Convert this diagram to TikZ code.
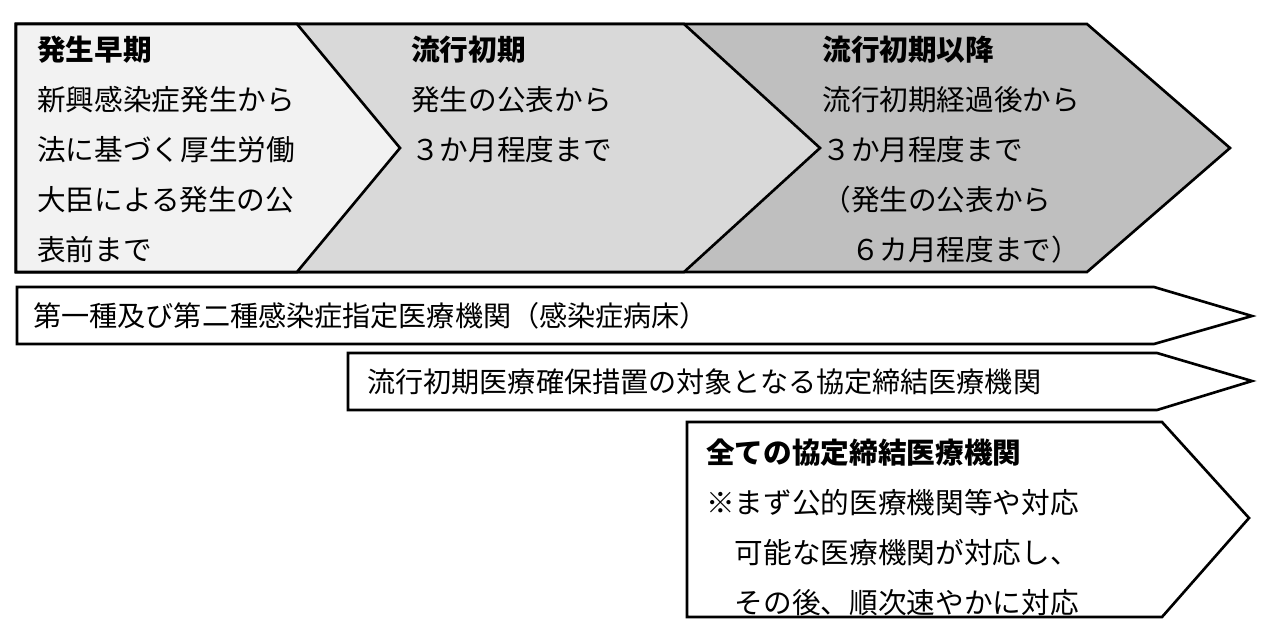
\documentclass[tikz,border=0pt]{standalone}
\usepackage{fontspec}
\setmainfont{Noto Sans CJK JP}
\definecolor{early}{HTML}{F2F2F2}
\definecolor{initial}{HTML}{D9D9D9}
\definecolor{later}{HTML}{BFBFBF}
\tikzset{
  phase/.style={draw, line width=1.5pt},
  txt/.style={inner sep=0pt, align=left, font=\fontsize{16.3}{28.45}\selectfont},
  lbl/.style={inner sep=0pt, anchor=west, font=\fontsize{16}{20}\selectfont},
}
\begin{document}
\begin{tikzpicture}[x=0.02cm, y=-0.02cm]
        \useasboundingbox (0,0) rectangle (1278,636);
        % phases, back to front
        \draw[phase, fill=later] (16,24) -- (1087,24) -- (1230,148) -- (1087,272) -- (16,272) -- cycle;
        \draw[phase, fill=initial] (16,24) -- (684,24) -- (820,148) -- (684,272) -- (16,272) -- cycle;
        \draw[phase, fill=early] (16,24) -- (297,24) -- (400,148) -- (297,272) -- (16,272) -- cycle;
        \node[txt, anchor=north west] (early) at (37,36) {\textbf{発生早期}\\新興感染症発生から\\法に基づく厚生労働\\大臣による発生の公\\表前まで};
        \node[txt, anchor=north west] (initial) at (411,36) {\textbf{流行初期}\\発生の公表から\\３か月程度まで};
        \node[txt, anchor=north west] (later) at (822,36) {\textbf{流行初期以降}\\流行初期経過後から\\３か月程度まで\\（発生の公表から\\　６カ月程度まで）};
        % institutions
        \draw[phase, fill=white] (17,287) -- (1154,287) -- (1252,316) -- (1154,344) -- (17,344) -- cycle;
        \draw[phase, fill=white] (348,353) -- (1157,353) -- (1252,381) -- (1157,410) -- (348,410) -- cycle;
        \draw[phase, fill=white] (687,422) -- (1162,422) -- (1249,518) -- (1162,617) -- (687,617) -- cycle;
        \node[lbl] (designated) at (33,316) {第一種及び第二種感染症指定医療機関（感染症病床）};
        \node[lbl] (measures) at (367,382) {流行初期医療確保措置の対象となる協定締結医療機関};
        \node[txt, anchor=north west] (all) at (706,439) {\textbf{全ての協定締結医療機関}\\※まず公的医療機関等や対応\\　可能な医療機関が対応し、\\　その後、順次速やかに対応};
        %\draw[help lines, step=50] (0,0) grid (1278,636);
\end{tikzpicture}
\end{document}
